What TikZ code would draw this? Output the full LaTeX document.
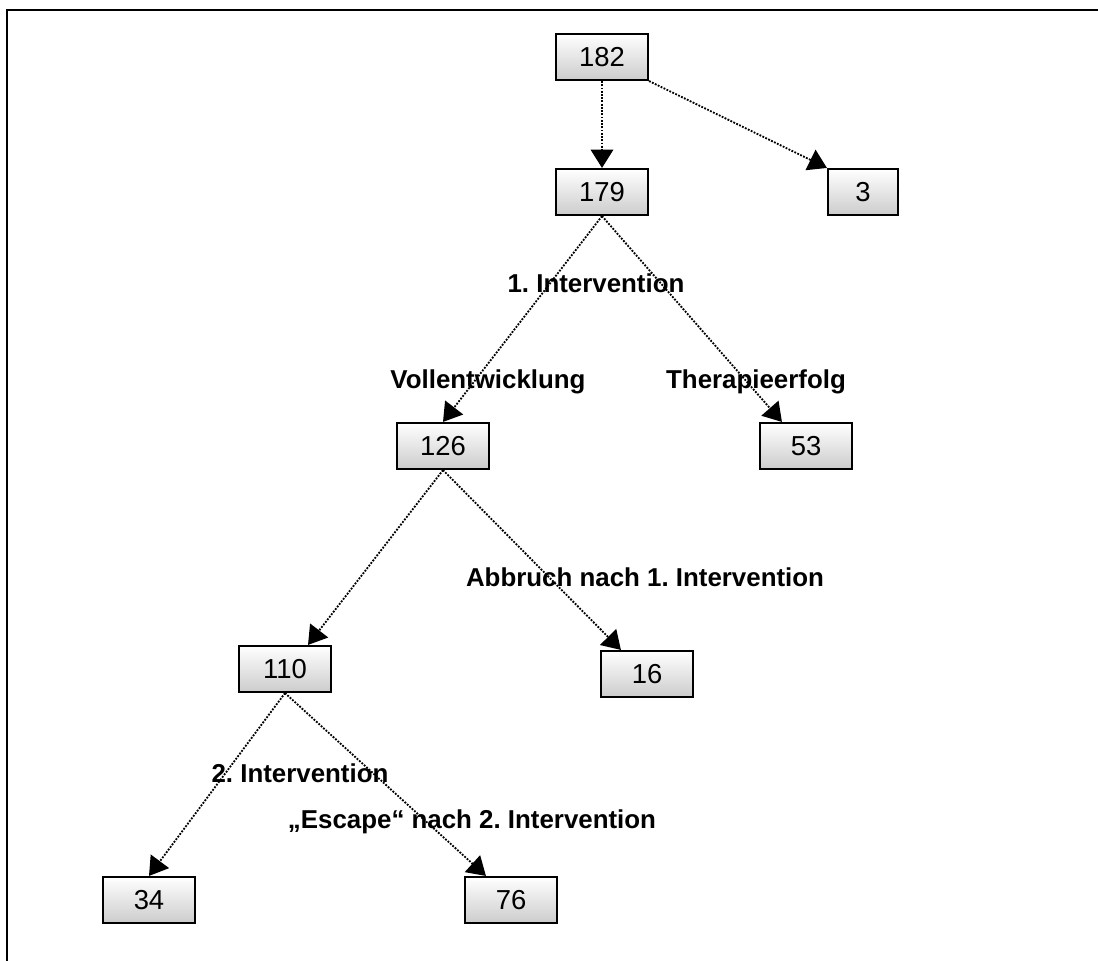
\documentclass[tikz,border=0pt]{standalone}
\usepackage{fontspec}
\setmainfont{Liberation Sans}
\usetikzlibrary{arrows.meta,calc}
\frenchspacing

\begin{document}
\begin{tikzpicture}[x=0.025cm, y=-0.025cm,
    box/.style={rectangle, draw, line width=1.5pt, top color=white, bottom color=black!20,
        minimum width=2.3cm, minimum height=1.15cm, font=\fontsize{19.5}{22}\selectfont},
    lbl/.style={inner sep=0pt, anchor=base, font=\fontsize{18.4}{22}\selectfont\bfseries},
    flow/.style={densely dotted, line width=1.3pt, -{Triangle[length=13pt,width=16pt]}}]
    \useasboundingbox (0,0) rectangle (1098,960);
    \draw [line width=1.4pt] (7,975) -- (7,10) -- (1115,10);

    % Define nodes
    \node [box] (all) at (602,57) {182};
    \node [box] (study) at (602,192) {179};
    \node [box, minimum width=1.75cm] (out) at (863,192) {3};
    \node [box] (full) at (443,446) {126};
    \node [box] (success) at (806,446) {53};
    \node [box] (second) at (285,669) {110};
    \node [box] (stop) at (647,674) {16};
    \node [box] (ok) at (149,900) {34};
    \node [box] (escape) at (511,900) {76};

    % Labels
    \node [lbl] (first) at (596,292) {1. Intervention};
    \node [lbl] (vollent) at (488,388) {Vollentwicklung};
    \node [lbl] (erfolg) at (756,388) {Therapieerfolg};
    \node [lbl] (abbruch) at (645,586) {Abbruch nach 1. Intervention};
    \node [lbl] (zweite) at (300,782) {2. Intervention};
    \node [lbl] (esc) at (472,828) {„Escape“ nach 2. Intervention};

    % Draw edges
    \draw [flow] (all.south) -- (study.north);
    \draw [flow] (all.south east) -- (out.north west);
    \draw [flow] (study.south) -- (full.north);
    \draw [flow] (study.south) -- ($(success.north west)+(23,0)$);
    \draw [flow] (full.south) -- ($(second.north)+(23,0)$);
    \draw [flow] (full.south) -- ($(stop.north west)+(21,0)$);
    \draw [flow] (second.south) -- (ok.north);
    \draw [flow] (second.south) -- ($(escape.north west)+(22,0)$);
\end{tikzpicture}
\end{document}
